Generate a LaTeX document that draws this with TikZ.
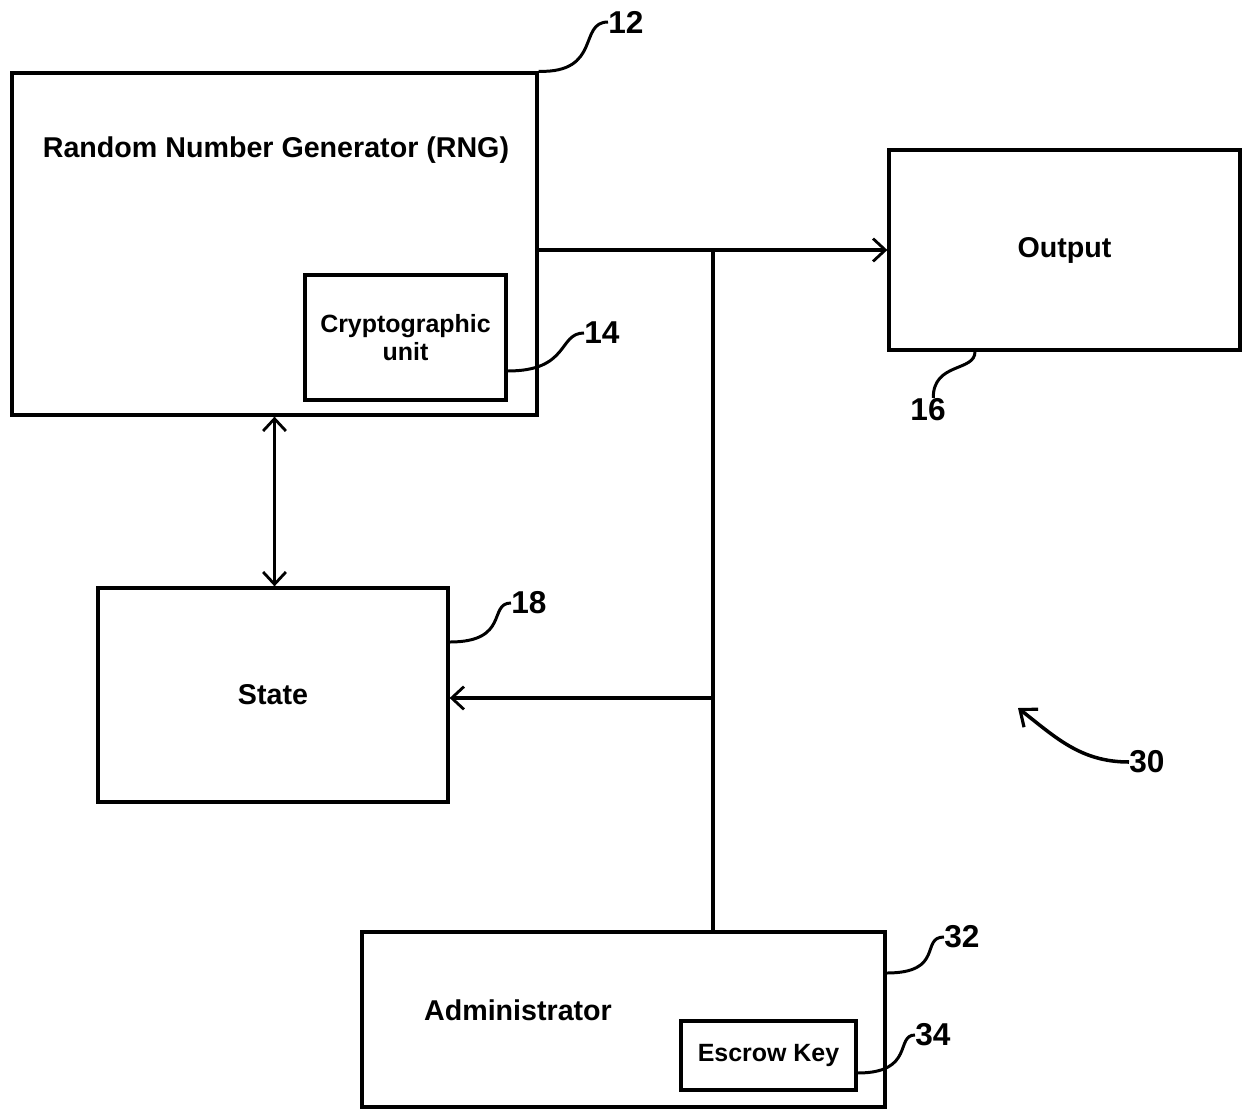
\documentclass[tikz,border=0pt]{standalone}
\usepackage{fontspec}
\setmainfont{Liberation Sans}
\usepackage{tikz}
\usetikzlibrary{arrows.meta, positioning}

\begin{document}
\begin{tikzpicture}[
        x=0.02cm, y=-0.02cm,
        box/.style={draw, line width=1.9pt, inner sep=0pt},
        big/.style={font=\bfseries\fontsize{16.3}{19}\selectfont, align=center},
        small/.style={font=\bfseries\fontsize{14.2}{15.5}\selectfont, align=center},
        num/.style={font=\bfseries\fontsize{18}{20}\selectfont, inner sep=0pt},
        arr/.style={-{Straight Barb[length=7pt, width=13pt, line width=1.6pt]}, line width=1.8pt},
        arrboth/.style={{Straight Barb[length=7pt, width=13pt, line width=1.6pt]}-{Straight Barb[length=7pt, width=13pt, line width=1.6pt]}, line width=1.8pt},
        lead/.style={line width=1.7pt},
      ]
        \useasboundingbox (0,0) rectangle (1242,1120);

        % Blocks
        \node[box, minimum width=10.5cm, minimum height=6.84cm] (rng) at (274.5,244) {};
        \node[big] (rngtxt) at (276,150) {Random Number Generator (RNG)};
        \node[box, minimum width=4.02cm, minimum height=2.5cm, small] (crypto) at (405.5,337.5) {Cryptographic\\unit};
        \node[box, minimum width=7.02cm, minimum height=4cm, big] (out) at (1064.5,250) {Output};
        \node[box, minimum width=7cm, minimum height=4.28cm, big] (state) at (273,695) {State};
        \node[box, minimum width=10.46cm, minimum height=3.5cm] (admin) at (623.5,1019.5) {};
        \node[big] (admintxt) at (518,1010) {Administrator};
        \node[box, minimum width=3.5cm, minimum height=1.38cm, small] (escrow) at (768.5,1055.5) {Escrow Key};

        % Bus
        \coordinate (j1) at (713,250);
        \coordinate (j2) at (713,698);
        \draw[arr] (rng.east |- j1) -- (out.west);
        \draw[line width=1.8pt] (j1) -- (admin.north -| j1);
        \draw[arr] (j2) -- (j2 -| state.east);
        \draw[arrboth] (rng.south) -- (rng.south |- state.north);

        % Reference numerals
        \node[num, anchor=west] (n12) at (608,22) {12};
        \node[num, anchor=west] (n14) at (584,333) {14};
        \node[num, anchor=north] (n16) at (928,398) {16};
        \node[num, anchor=west] (n18) at (511,603) {18};
        \node[num, anchor=west] (n30) at (1129,762) {30};
        \node[num, anchor=west] (n32) at (944,937) {32};
        \node[num, anchor=west] (n34) at (915,1035) {34};

        \draw[lead] (rng.north east) .. controls (602,73) and (578,22) .. (n12.west);
        \draw[lead] ([yshift=-0.67cm]crypto.east) .. controls (570,371) and (558,333) .. (n14.west);
        \draw[lead] ([xshift=-1.79cm]out.south) .. controls (975,372) and (933,362) .. ([xshift=3pt]n16.north);
        \draw[lead] ([yshift=1.06cm]state.east) .. controls (510,642) and (488,603) .. (n18.west);
        \draw[lead] ([yshift=0.93cm]admin.east) .. controls (945,973) and (920,937) .. (n32.west);
        \draw[lead] ([yshift=-0.35cm]escrow.east) .. controls (915,1073) and (895,1035) .. (n34.west);

        % Overall arrow
        \coordinate (tip30) at (1018,708);
        \draw[-{Straight Barb[length=8pt, width=13pt, line width=1.8pt]}, line width=2pt]
          (n30.west) to[out=180, in=-38] (tip30);
      \end{tikzpicture}
\end{document}
